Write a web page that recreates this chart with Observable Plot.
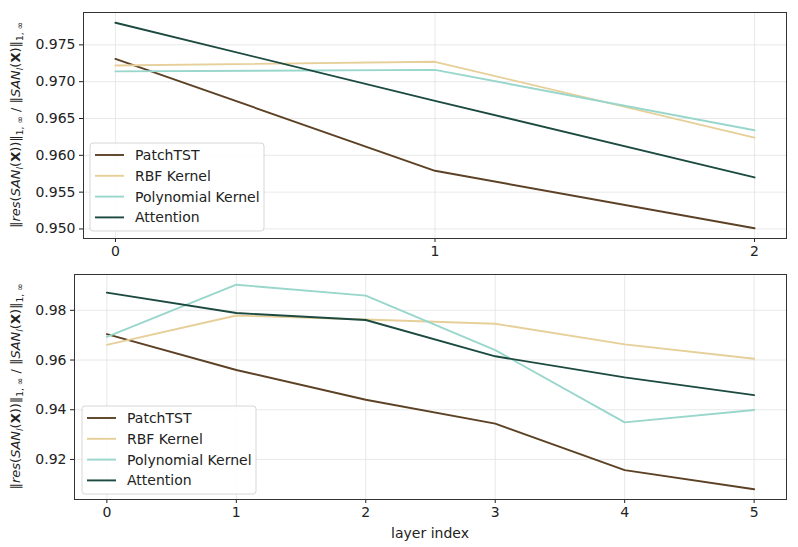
<!DOCTYPE html>
<html>
<head>
<meta charset="utf-8">
<script src="https://cdn.jsdelivr.net/npm/d3@7"></script>
<script src="https://cdn.jsdelivr.net/npm/@observablehq/plot@0.6"></script>
<style>
  body { margin: 0; background: #fff; }
  #chart { width: 798px; }
  svg { display: block; }
</style>
</head>
<body>
<div id="chart"></div>
<script>
const seriesNames = ["PatchTST", "RBF Kernel", "Polynomial Kernel", "Attention"];
const seriesColors = ["#5c4125", "#e6cf98", "#99d6cb", "#1c4a40"];

const layers1 = [0, 1, 2];
const patchTST1 = [0.9731, 0.9579, 0.9501];
const rbf1 = [0.9722, 0.9727, 0.9624];
const poly1 = [0.9714, 0.9716, 0.9634];
const attention1 = [0.9780, 0.9674, 0.9570];
const yTicks1 = [0.950, 0.955, 0.960, 0.965, 0.970, 0.975];

const layers2 = [0, 1, 2, 3, 4, 5];
const patchTST2 = [0.9704, 0.9560, 0.9440, 0.9344, 0.9157, 0.9080];
const rbf2 = [0.9661, 0.9779, 0.9763, 0.9746, 0.9663, 0.9605];
const poly2 = [0.9693, 0.9903, 0.9859, 0.9640, 0.9349, 0.9399];
const attention2 = [0.9871, 0.9789, 0.9761, 0.9615, 0.9530, 0.9459];
const yTicks2 = [0.92, 0.94, 0.96, 0.98];

function tidy(layers, arrays) {
  const rows = [];
  arrays.forEach((arr, si) => arr.forEach((v, i) => rows.push({layer: layers[i], value: v, series: seriesNames[si]})));
  return rows;
}
function padded(ext) {
  const r = ext[1] - ext[0];
  return [ext[0] - 0.05 * r, ext[1] + 0.05 * r];
}

function makePanel(layers, arrays, yTicks, yFmt, opts) {
  const data = tidy(layers, arrays);
  const plot = Plot.plot({
    width: 798,
    height: opts.height,
    marginTop: opts.mt,
    marginBottom: opts.mb,
    marginLeft: opts.ml,
    marginRight: 12,
    style: {fontFamily: "DejaVu Sans", fontSize: "14px", color: "#222", background: "#fff"},
    x: {domain: padded(d3.extent(layers)), label: null},
    y: {domain: padded(d3.extent(data, d => d.value)), label: null},
    color: {domain: seriesNames, range: seriesColors},
    marks: [
      Plot.gridX(layers, {stroke: "#e3e3e3", strokeOpacity: 1, strokeWidth: 0.8}),
      Plot.gridY(yTicks, {stroke: "#e3e3e3", strokeOpacity: 1, strokeWidth: 0.8}),
      Plot.line(data, {x: "layer", y: "value", z: "series", stroke: "series", strokeWidth: 1.9}),
      Plot.axisX({ticks: layers, tickFormat: d3.format("d"), tickSize: 4, tickPadding: 4, label: null, fontSize: 14}),
      Plot.axisY({ticks: yTicks, tickFormat: d3.format(yFmt), tickSize: 4, tickPadding: 4, label: null, fontSize: 14}),
      Plot.frame({stroke: "#333", strokeWidth: 1})
    ]
  });
  const svg = d3.select(plot);
  const cy = opts.mt + (opts.height - opts.mt - opts.mb) / 2;
  const t = svg.append("text")
    .attr("transform", `translate(${opts.lx},${cy}) rotate(-90)`)
    .attr("text-anchor", "middle")
    .attr("font-family", "DejaVu Sans")
    .attr("font-size", 13)
    .attr("fill", "#222");
  const parts = [
    ["‖", ""], ["res", "i"], ["(", ""], ["SAN", "i"], ["l", "isub"], ["(", ""], ["X", "b"], ["))‖", ""],
    ["1, ∞", "sub"], [" / ‖", ""], ["SAN", "i"], ["l", "isub"], ["(", ""], ["X", "b"], [")‖", ""], ["1, ∞", "sub"]
  ];
  let inSub = false;
  parts.forEach(([s, k]) => {
    const ts = t.append("tspan").text(s);
    const sub = k === "sub" || k === "isub";
    if (sub && !inSub) { ts.attr("dy", 3); inSub = true; }
    else if (!sub && inSub) { ts.attr("dy", -3); inSub = false; }
    if (sub) ts.attr("font-size", 9);
    if (k === "i" || k === "isub") ts.attr("font-style", "italic");
    if (k === "b") ts.attr("font-weight", "bold");
  });
  const lg = svg.append("g").attr("transform", `translate(${opts.legX},${opts.legY})`);
  lg.append("rect").attr("width", 174).attr("height", 88).attr("rx", 3)
    .attr("fill", "#fff").attr("fill-opacity", 0.85).attr("stroke", "#d6d6d6");
  seriesNames.forEach((name, i) => {
    const y = 12 + i * 20.8;
    lg.append("line").attr("x1", 5).attr("x2", 34).attr("y1", y).attr("y2", y)
      .attr("stroke", seriesColors[i]).attr("stroke-width", 1.9);
    lg.append("text").attr("x", 45).attr("y", y).attr("dy", "0.35em")
      .attr("text-anchor", "start")
      .attr("font-family", "DejaVu Sans").attr("font-size", 14).attr("fill", "#222").text(name);
  });
  if (opts.xlabel) {
    svg.append("text").attr("x", opts.ml + (798 - 12 - opts.ml) / 2).attr("y", opts.height - 9)
      .attr("text-anchor", "middle").attr("font-family", "DejaVu Sans").attr("font-size", 14)
      .attr("fill", "#222").text(opts.xlabel);
  }
  return plot;
}

const chart = document.getElementById("chart");
chart.append(makePanel(layers1, [patchTST1, rbf1, poly1, attention1], yTicks1, ".3f",
  {height: 260, mt: 12, mb: 22, ml: 83, lx: 20, legX: 90, legY: 143}));
chart.append(makePanel(layers2, [patchTST2, rbf2, poly2, attention2], yTicks2, ".2f",
  {height: 287, mt: 14, mb: 48, ml: 74, lx: 20, legX: 82, legY: 146, xlabel: "layer index"}));
</script>
</body>
</html>
